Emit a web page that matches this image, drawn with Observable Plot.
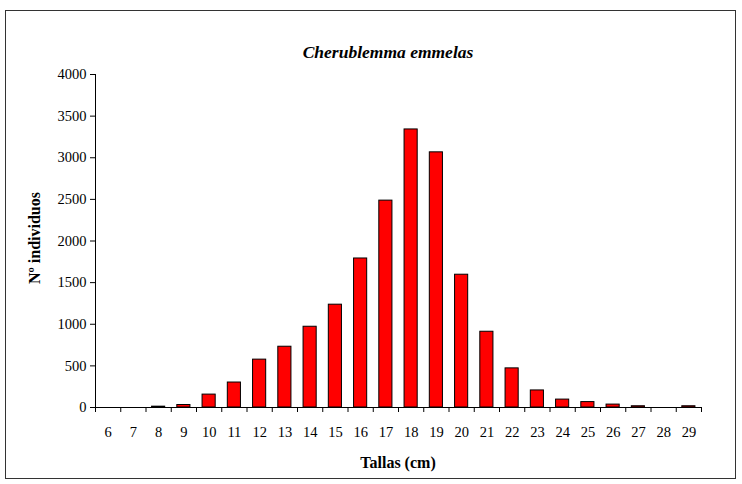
<!DOCTYPE html>
<html><head><meta charset="utf-8">
<script src="https://cdn.jsdelivr.net/npm/d3@7"></script>
<script src="https://cdn.jsdelivr.net/npm/@observablehq/plot@0.6"></script>
<style>
html,body{margin:0;padding:0;background:#fff;}
#wrap{position:relative;width:742px;height:484px;font-family:"Liberation Serif","Times New Roman",serif;}
#frame{position:absolute;left:5px;top:10px;width:731px;height:469px;border:1px solid #333;box-sizing:border-box;}
#chart{position:absolute;left:0;top:0;}
.t{position:absolute;color:#000;white-space:nowrap;line-height:1;}
#title{left:0;width:776px;top:44px;text-align:center;font-weight:bold;font-style:italic;font-size:17.5px;}
#xt{left:95px;width:606px;top:455px;text-align:center;font-weight:bold;font-size:16px;}
#yt{left:35px;top:238px;font-weight:bold;font-size:16px;transform:translate(-50%,-50%) rotate(-90deg);}
</style></head>
<body>
<div id="wrap">
  <div id="chart"></div>
  <div id="frame"></div>
  <div class="t" id="title">Cherublemma emmelas</div>
  <div class="t" id="xt">Tallas (cm)</div>
  <div class="t" id="yt">Nº individuos</div>
</div>
<script>
const tallas = [6,7,8,9,10,11,12,13,14,15,16,17,18,19,20,21,22,23,24,25,26,27,28,29];
const individuos = [0,0,10,30,155,300,575,730,970,1235,1790,2485,3340,3065,1595,910,470,205,95,65,35,15,0,15];
const yTicks = [0,500,1000,1500,2000,2500,3000,3500,4000];

const data = tallas.map((t,i)=>({t, n: individuos[i]}));
const bounds = tallas.map(t=>t-0.5).concat([tallas[tallas.length-1]+0.5]);
const half = 0.26;

const chart = Plot.plot({
  width: 742, height: 484,
  marginLeft: 95, marginRight: 41, marginTop: 74, marginBottom: 77,
  style: {fontFamily: '"Liberation Serif","Times New Roman",serif', fontSize: "14.5px", color: "#000", background: "transparent"},
  x: {type: "linear", domain: [bounds[0], bounds[bounds.length-1]]},
  y: {domain: [0, 4000]},
  marks: [
    Plot.rectY(data, {x1: d=>d.t-half, x2: d=>d.t+half, y1: 0, y2: "n", fill: "#ff0000", stroke: "#000", strokeWidth: 1}),
    Plot.ruleX([bounds[0]], {stroke: "#000"}),
    Plot.ruleY([0], {stroke: "#000"}),
    Plot.axisY({ticks: yTicks, tickSize: 5, tickPadding: 4, tickFormat: d => String(d), label: null, stroke: "#000", fill: "#000", fontSize: 14.5}),
    Plot.axisX({ticks: bounds, tickSize: 5, tickFormat: () => "", label: null, stroke: "#000"}),
    Plot.axisX({ticks: tallas, tickSize: 0, tickPadding: 19, tickFormat: d => String(d), label: null, fill: "#000", fontSize: 14.5})
  ]
});
document.getElementById("chart").appendChild(chart);
</script>
</body></html>
